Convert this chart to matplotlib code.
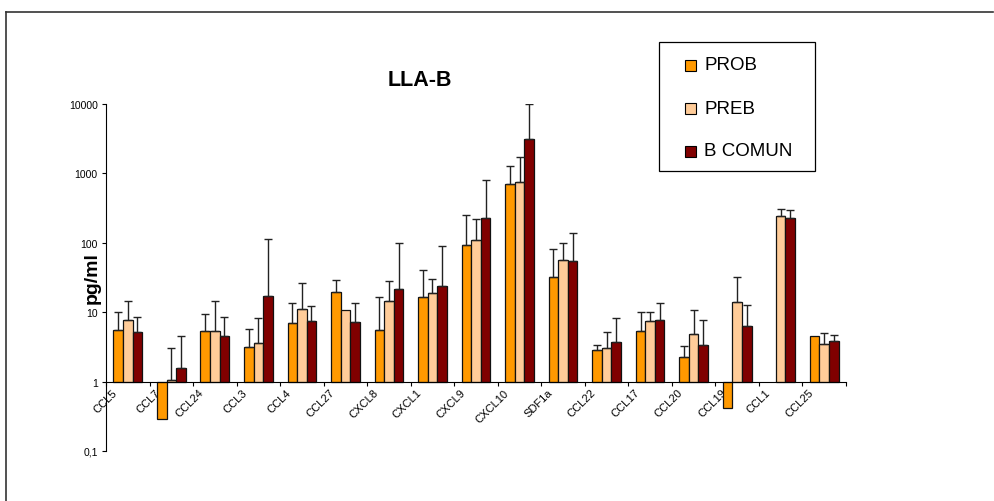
import numpy as np
import matplotlib as mpl
mpl.use('Agg')
import matplotlib.pyplot as plt
from matplotlib.patches import Rectangle
from matplotlib.lines import Line2D
from matplotlib.transforms import ScaledTranslation

plt.rcParams['font.family'] = ['Liberation Sans', 'DejaVu Sans']

nan = np.nan

categories = ['CCL5', 'CCL7', 'CCL24', 'CCL3', 'CCL4', 'CCL27', 'CXCL8', 'CXCL1',
              'CXCL9', 'CXCL10', 'SDF1a', 'CCL22', 'CCL17', 'CCL20', 'CCL19',
              'CCL1', 'CCL25']
series = ['PROB', 'PREB', 'B COMUN']

# mean values (pg/ml)
prob = [5.5, 0.29, 5.4, 3.16, 6.9, 19.6, 5.5, 16.6, 94, 705, 32, 2.86, 5.4,
        2.29, 0.42, nan, 4.6]
preb = [7.6, 1.07, 5.4, 3.6, 11.3, 10.8, 14.4, 18.8, 108, 740, 57, 3.06, 7.5,
        4.9, 14.1, 245, 3.5]
bcomun = [5.25, 1.55, 4.55, 17.3, 7.5, 7.3, 21.7, 24, 225, 3150, 54, 3.77, 7.8,
          3.33, 6.4, 224, 3.9]

# top of the upper error bar
prob_err_top = [10, nan, 9.4, 5.7, 13.7, 29.5, 16.6, 41, 251, 1290, 81, 3.4, 10,
                3.3, nan, nan, nan]
preb_err_top = [14.7, 3.0, 14.7, 8.3, 26.5, nan, 28.3, 30, 220, 1730, 100, 5.25,
                10, 10.8, 31.9, 309, 5.0]
bcomun_err_top = [8.6, 4.5, 8.4, 115, 12.3, 13.7, 100, 91, 795, 10000, 139, 8.3,
                  13.7, 7.8, 12.6, 294, 4.65]

colors = ['#FF9900', '#FFCC99', '#800000']

yticks = [0.1, 1, 10, 100, 1000, 10000]
ytick_labels = ['0,1', '1', '10', '100', '1000', '10000']

W, H = 994, 502
fig = plt.figure(figsize=(W / 100, H / 100), dpi=100)
ax = fig.add_axes([106 / W, (H - 452) / H, 740 / W, 347 / H])

x = np.arange(len(categories))
width = 0.22
data = [(prob, prob_err_top), (preb, preb_err_top), (bcomun, bcomun_err_top)]
for i, (vals, tops) in enumerate(data):
    vals = np.array(vals, dtype=float)
    tops = np.array(tops, dtype=float)
    xs = x + (i - 1) * width
    ax.bar(xs, vals - 1, bottom=1, width=width, color=colors[i],
           edgecolor='#111111', linewidth=0.9, zorder=2)
    up = tops - vals
    ok = ~np.isnan(up)
    ax.errorbar(xs[ok], vals[ok], yerr=[np.zeros(ok.sum()), up[ok]], fmt='none',
                ecolor='#222222', elinewidth=1, capsize=2.6, capthick=1, zorder=3)

ax.set_yscale('log')
ax.set_ylim(0.1, 10000)
ax.set_xlim(-0.5, len(categories) - 0.5)
ax.set_yticks(yticks)
ax.set_yticklabels(ytick_labels, fontsize=7.5)
ax.yaxis.set_minor_locator(mpl.ticker.NullLocator())
ax.tick_params(axis='y', length=3, width=0.8, pad=3)

ax.spines['top'].set_visible(False)
ax.spines['right'].set_visible(False)
ax.spines['bottom'].set_position(('data', 1))
ax.spines['left'].set_linewidth(0.8)
ax.spines['bottom'].set_linewidth(0.8)

ax.set_xticks(x)
ax.set_xticklabels(categories, fontsize=8, rotation=45, ha='right', va='top')
ax.set_xticks(np.arange(len(categories) + 1) - 0.5, minor=True)
ax.tick_params(axis='x', which='major', length=0, pad=4)
ax.tick_params(axis='x', which='minor', length=3, width=0.8)
offset = ScaledTranslation(-0.09, 0, fig.dpi_scale_trans)
for lab in ax.get_xticklabels():
    lab.set_transform(lab.get_transform() + offset)

fig.text(420 / W, 1 - 81 / H, 'LLA-B', fontsize=15.5, fontweight='bold',
         ha='center', va='center')
fig.text(92 / W, 1 - 278 / H, 'pg/ml', fontsize=14, fontweight='bold',
         rotation=90, ha='center', va='center')

# legend box drawn by hand
fig.add_artist(Rectangle((659 / W, 1 - 172 / H), 156 / W, 129 / H,
                         transform=fig.transFigure, fill=False,
                         edgecolor='black', linewidth=0.9))
for name, c, yc in zip(series, colors, [66, 109, 152]):
    fig.add_artist(Rectangle((685 / W, 1 - (yc + 5.5) / H), 11 / W, 11 / H,
                             transform=fig.transFigure, facecolor=c,
                             edgecolor='black', linewidth=0.8))
    fig.text(704 / W, 1 - yc / H, name, fontsize=13.5, ha='left', va='center')

# outer frame (top and left edges)
fig.add_artist(Line2D([6 / W, 993 / W], [1 - 13 / H, 1 - 13 / H],
                      transform=fig.transFigure, color='#333333', linewidth=1.2))
fig.add_artist(Line2D([6 / W, 6 / W], [1 - 13 / H, 0],
                      transform=fig.transFigure, color='#333333', linewidth=1.2))

fig.savefig('out.png', dpi=100)
